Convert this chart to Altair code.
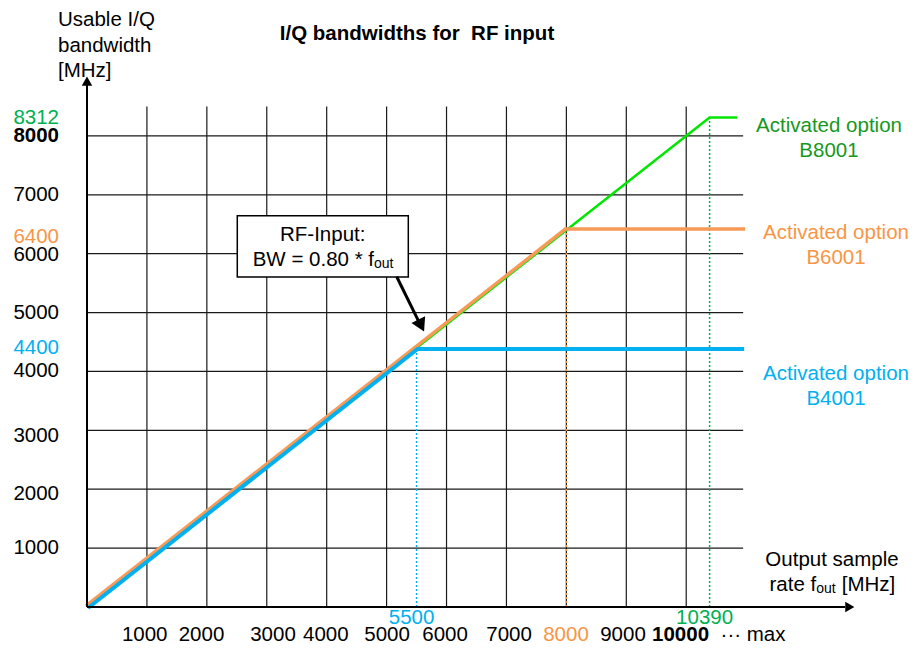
import altair as alt
import pandas as pd

# ---------------- data ----------------
# usable I/Q bandwidth curves (BW = 0.80 * fout, limited by option)
b8001_fout = [0, 10390, 10850]
b8001_bw = [0, 8312, 8312]
b6001_fout = [0, 8000, 11000]
b6001_bw = [0, 6400, 6400]
b4001_fout = [0, 5500, 10950]
b4001_bw = [0, 4400, 4400]

grid_x = [1000, 2000, 3000, 4000, 5000, 6000, 7000, 8000, 9000, 10000]
grid_y = [1000, 2000, 3000, 4000, 5000, 6000, 7000, 8000]

# x tick labels
xlab_text = ["1000", "2000", "3000", "4000", "5000", "6000", "7000", "8000", "9000", "10000", "\u00b7\u00b7\u00b7 max"]
xlab_pos = [963, 1911, 3104, 3985, 5007, 5975, 7043, 7994, 8945, 9905, 11115]
xlab_color = ["#000000"] * 7 + ["#f79646", "#000000", "#000000", "#000000"]
xlab_bold = [False] * 9 + [True, False]

# y tick labels
ylab_text = ["8312", "8000", "7000", "6400", "6000", "5000", "4400", "4000", "3000", "2000", "1000"]
ylab_pos = [8312, 8000, 7000, 6280, 5980, 5000, 4400, 4000, 2900, 1920, 1000]
ylab_color = ["#00b050", "#000000", "#000000", "#f79646", "#000000", "#000000",
              "#00b0f0", "#000000", "#000000", "#000000", "#000000"]
ylab_bold = [False, True] + [False] * 9

# option limit markers on x axis
limit_fout = [5500, 8000, 10390]
limit_bw = [4400, 6400, 8312]
limit_color = ["#00b0f0", "#f79646", "#00b050"]
limit_label = ["5500", "", "10390"]

# option labels (right side)
opt_text = ["Activated option\nB8001", "Activated option\nB6001", "Activated option\nB4001"]
opt_x = [12383, 12500, 12500]
opt_y = [8166, 6348, 3957]
opt_color = ["#16981c", "#f79646", "#00b0f0"]

TITLE = "I/Q bandwidths for\u00a0\u00a0RF input"

FONT = "Liberation Sans"
FS = 20.5

X = alt.Scale(domain=[0, 12800], nice=False, zero=False)
Y = alt.Scale(domain=[0, 9000], nice=False, zero=False)


def xe(f):
    return alt.X(f, type="quantitative", scale=X, axis=None)


def ye(f):
    return alt.Y(f, type="quantitative", scale=Y, axis=None)


# ---------------- grid ----------------
gv = pd.DataFrame({"x": grid_x, "y": 0, "y2": 8500})
grid_v = alt.Chart(gv).mark_rule(color="#1a1a1a", strokeWidth=1.2).encode(
    x=xe("x"), y=ye("y"), y2="y2")
gh = pd.DataFrame({"y": grid_y, "x": 0, "x2": 10950})
grid_h = alt.Chart(gh).mark_rule(color="#1a1a1a", strokeWidth=1.2).encode(
    y=ye("y"), x=xe("x"), x2="x2")

# dotted verticals
lim = pd.DataFrame({"x": limit_fout, "y": 0, "y2": limit_bw, "c": limit_color})
limits = alt.Chart(lim).mark_rule(strokeDash=[2, 2], strokeWidth=1.5).encode(
    x=xe("x"), y=ye("y"), y2="y2", color=alt.Color("c:N", scale=None))


def curve(fx, fy, color, width, xo=0, yo=0):
    df = pd.DataFrame({"x": fx, "y": fy, "o": list(range(len(fx)))})
    return alt.Chart(df).mark_line(color=color, strokeWidth=width, xOffset=xo, yOffset=yo,
                                   strokeJoin="miter").encode(
        x=xe("x"), y=ye("y"), order="o:Q")


line8 = curve(b8001_fout, b8001_bw, "#00e600", 2.5)
line6 = curve(b6001_fout, b6001_bw, "#f79a58", 3.5, -1, -1)
line4 = curve(b4001_fout, b4001_bw, "#00b0f0", 4, 1, 1)

# axes with arrows
yaxis = alt.Chart(pd.DataFrame({"x": [0], "y": [0], "y2": [8900]})).mark_rule(
    color="black", strokeWidth=2).encode(x=xe("x"), y=ye("y"), y2="y2")
xaxis = alt.Chart(pd.DataFrame({"y": [0], "x": [0], "x2": [12650]})).mark_rule(
    color="black", strokeWidth=2).encode(y=ye("y"), x=xe("x"), x2="x2")
yarrow = alt.Chart(pd.DataFrame({"x": [0], "y": [8930]})).mark_point(
    shape="triangle-up", size=110, filled=True, color="black", opacity=1).encode(x=xe("x"), y=ye("y"))
xarrow = alt.Chart(pd.DataFrame({"x": [12730], "y": [0]})).mark_point(
    shape="triangle-right", size=110, filled=True, color="black", opacity=1).encode(x=xe("x"), y=ye("y"))

# annotation box + arrow
box = alt.Chart(pd.DataFrame({"x": [2508], "x2": [5362], "y": [6645], "y2": [5603]})).mark_rect(
    fill="white", stroke="black", strokeWidth=1.5).encode(x=xe("x"), x2="x2", y=ye("y"), y2="y2")
arr = alt.Chart(pd.DataFrame({"x": [5169], "y": [5608], "x2": [5560], "y2": [4800]})).mark_rule(
    color="black", strokeWidth=3).encode(x=xe("x"), y=ye("y"), x2="x2", y2="y2")
arrhead = alt.Chart(pd.DataFrame({"x": [5577], "y": [4779]})).mark_point(
    shape="triangle-up", size=230, filled=True, color="black", opacity=1, angle=154).encode(
    x=xe("x"), y=ye("y"))

box_l1 = alt.Chart(pd.DataFrame({"x": [3934], "y": [6322], "t": ["RF-Input:"]})).mark_text(
    font=FONT, fontSize=FS, color="black", align="center", baseline="middle").encode(
    x=xe("x"), y=ye("y"), text="t:N")
box_l2 = alt.Chart(pd.DataFrame({"x": [4790], "y": [5897], "t": ["BW = 0.80 * f"]})).mark_text(
    font=FONT, fontSize=FS, color="black", align="right", baseline="middle").encode(
    x=xe("x"), y=ye("y"), text="t:N")
box_sub = alt.Chart(pd.DataFrame({"x": [4790], "y": [5829], "t": ["out"]})).mark_text(
    font=FONT, fontSize=14, color="black", align="left", baseline="middle").encode(
    x=xe("x"), y=ye("y"), text="t:N")

# ---------------- tick labels ----------------
xl = pd.DataFrame({"x": xlab_pos, "y": 0, "t": xlab_text, "c": xlab_color, "b": xlab_bold})
xlab_n = alt.Chart(xl[~xl["b"]]).mark_text(font=FONT, fontSize=FS, baseline="middle", dy=28).encode(
    x=xe("x"), y=ye("y"), text="t:N", color=alt.Color("c:N", scale=None))
xlab_b = alt.Chart(xl[xl["b"]]).mark_text(font=FONT, fontSize=FS, fontWeight="bold", baseline="middle",
                                          dy=28).encode(
    x=xe("x"), y=ye("y"), text="t:N", color=alt.Color("c:N", scale=None))

ll = pd.DataFrame({"x": limit_fout, "y": 0, "t": limit_label, "c": limit_color})
ll = ll[ll["t"] != ""]
lim_lab = alt.Chart(ll).mark_text(font=FONT, fontSize=FS, baseline="middle", dy=11, dx=-5).encode(
    x=xe("x"), y=ye("y"), text="t:N", color=alt.Color("c:N", scale=None))

yl = pd.DataFrame({"x": 0, "y": ylab_pos, "t": ylab_text, "c": ylab_color, "b": ylab_bold})
ylab_n = alt.Chart(yl[~yl["b"]]).mark_text(font=FONT, fontSize=FS, align="right", baseline="middle",
                                           dx=-28).encode(
    x=xe("x"), y=ye("y"), text="t:N", color=alt.Color("c:N", scale=None))
ylab_b = alt.Chart(yl[yl["b"]]).mark_text(font=FONT, fontSize=FS, fontWeight="bold", align="right",
                                          baseline="middle", dx=-28).encode(
    x=xe("x"), y=ye("y"), text="t:N", color=alt.Color("c:N", scale=None))

# option labels
ol = pd.DataFrame({"x": opt_x, "y": opt_y, "t": opt_text, "c": opt_color})
opt_lab = alt.Chart(ol).mark_text(font=FONT, fontSize=FS, align="center", baseline="middle",
                                  lineBreak="\n", lineHeight=25).encode(
    x=xe("x"), y=ye("y"), text="t:N", color=alt.Color("c:N", scale=None))

# chart title (as text, centred over the grid)
title = alt.Chart(pd.DataFrame({"x": [5507], "y": [9738], "t": [TITLE]})).mark_text(
    font=FONT, fontSize=FS, fontWeight="bold", align="center", baseline="middle").encode(
    x=xe("x"), y=ye("y"), text="t:N")

# axis titles
ytitle = alt.Chart(pd.DataFrame({"x": [0], "y": [9960], "t": ["Usable I/Q\nbandwidth\n[MHz]"]})).mark_text(
    font=FONT, fontSize=FS, align="left", baseline="middle", lineBreak="\n", lineHeight=25.5, dx=-29).encode(
    x=xe("x"), y=ye("y"), text="t:N")
xt1 = alt.Chart(pd.DataFrame({"x": [12433], "y": [800], "t": ["Output sample"]})).mark_text(
    font=FONT, fontSize=FS, align="center", baseline="middle").encode(x=xe("x"), y=ye("y"), text="t:N")
xt2 = alt.Chart(pd.DataFrame({"x": [12170], "y": [375], "t": ["rate f"]})).mark_text(
    font=FONT, fontSize=FS, align="right", baseline="middle").encode(x=xe("x"), y=ye("y"), text="t:N")
xt3 = alt.Chart(pd.DataFrame({"x": [12170], "y": [310], "t": ["out"]})).mark_text(
    font=FONT, fontSize=14, align="left", baseline="middle").encode(x=xe("x"), y=ye("y"), text="t:N")
xt4 = alt.Chart(pd.DataFrame({"x": [12170], "y": [375], "t": ["[MHz]"]})).mark_text(
    font=FONT, fontSize=FS, align="left", baseline="middle", dx=25.5).encode(x=xe("x"), y=ye("y"), text="t:N")

chart = alt.layer(
    grid_v, grid_h, limits, line8, line6, line4, yaxis, xaxis, yarrow, xarrow,
    box, arr, arrhead, box_l1, box_l2, box_sub,
    xlab_n, xlab_b, lim_lab, ylab_n, ylab_b, opt_lab, title, ytitle, xt1, xt2, xt3, xt4,
).properties(
    width=767, height=530,
    autosize=alt.AutoSizeParams(type="none"),
    padding={"left": 79, "top": 69, "right": 56, "bottom": 40},
    background="white",
).configure_view(stroke=None)

chart.save("out.html", embed_options={"renderer": "svg", "actions": False})
